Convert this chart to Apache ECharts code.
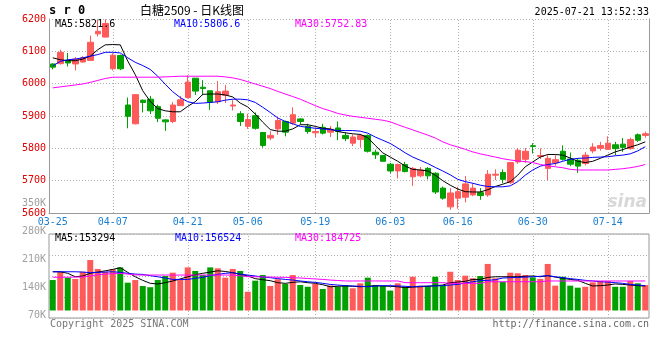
<!DOCTYPE html>
<html><head><meta charset="utf-8">
<script src="https://cdn.jsdelivr.net/npm/echarts/dist/echarts.min.js"></script>
<style>html,body{margin:0;padding:0;background:#fff}#c{width:660px;height:360px}</style>
</head><body><div id="c"></div>
<script>
// ---- data ----
const dates = ['03-25','03-26','03-27','03-28','03-31',
 '04-01','04-02','04-03','04-07','04-08','04-09','04-10','04-11','04-14','04-15','04-16','04-17','04-18',
 '04-21','04-22','04-23','04-24','04-25','04-28','04-29','04-30',
 '05-06','05-07','05-08','05-09','05-12','05-13','05-14','05-15','05-16','05-19','05-20','05-21','05-22','05-23',
 '05-26','05-27','05-28','05-29','05-30',
 '06-03','06-04','06-05','06-06','06-09','06-10','06-11','06-12','06-13','06-16','06-17','06-18','06-19','06-20',
 '06-23','06-24','06-25','06-26','06-27','06-30',
 '07-01','07-02','07-03','07-04','07-07','07-08','07-09','07-10','07-11','07-14','07-15','07-16','07-17','07-18','07-21'];
const labelDates = ['03-25','04-07','04-21','05-06','05-19','06-03','06-16','06-30','07-14'];
const opens  = [6061,6062,6072,6061,6067,6072,6154,6144,6046,6087, 5934,5876,5949,5952,5929,5888,5883,5932,5957,6017,
 5989,5978,5944,5964,5931,5907,5868,5901,5849,5832, 5860,5883,5878,5891,5868,5848,5865,5850,5863,5840,
 5816,5827,5840,5788,5778,5751,5730,5750,5712,5715, 5738,5723,5677,5619,5646,5649,5656,5663,5656,5717,
 5725,5694,5758,5766,5808,5775,5738,5755,5791,5767, 5763,5753,5792,5800,5797,5811,5813,5799,5842,5840];
const closes = [6051,6097,6064,6076,6080,6128,6162,6186,6088,6046, 5899,5966,5942,5916,5893,5882,5934,5950,6005,5977,
 5985,5942,5975,5977,5934,5883,5889,5862,5809,5840, 5886,5850,5904,5883,5852,5852,5847,5859,5852,5830,
 5835,5840,5791,5780,5760,5730,5750,5728,5738,5733, 5715,5665,5646,5662,5666,5690,5677,5654,5720,5720,
 5704,5756,5794,5791,5806,5778,5769,5765,5766,5751, 5745,5779,5804,5809,5816,5799,5803,5827,5825,5845];
const lows   = [6044,6059,6053,6041,6065,6072,6146,6144,6041,6042, 5862,5874,5911,5906,5881,5854,5878,5932,5954,5965,
 5964,5919,5937,5940,5917,5869,5860,5858,5802,5825, 5842,5837,5872,5874,5845,5835,5843,5835,5825,5822,
 5807,5802,5787,5767,5760,5723,5707,5726,5684,5711, 5704,5659,5641,5610,5613,5633,5652,5641,5650,5702,
 5692,5690,5752,5755,5784,5767,5702,5746,5762,5745, 5724,5747,5785,5793,5795,5779,5789,5796,5820,5833];
const highs  = [6063,6105,6095,6082,6085,6149,6197,6199,6094,6090, 5957,5968,5951,5962,5935,5890,5943,5962,6026,6017,
 6011,5978,6008,5996,5950,5915,5907,5911,5849,5853, 5898,5886,5927,5893,5876,5865,5876,5869,5883,5850,
 5843,5845,5843,5796,5778,5755,5753,5758,5742,5742, 5742,5726,5682,5677,5681,5714,5692,5677,5733,5735,
 5735,5758,5801,5801,5816,5800,5779,5779,5809,5787, 5770,5788,5816,5820,5837,5820,5832,5833,5846,5852];
const ma5  = [6080,6074,6071,6071,6076,6085,6105,6120,6121,6120, 6070,6028,5978,5945,5923,5916,5913,5913,5930,5944,
 5967,5968,5968,5965,5959,5940,5928,5906,5881,5858, 5853,5853,5860,5873,5873,5868,5862,5860,5852,5848,
 5845,5843,5833,5809,5786,5773,5760,5745,5735,5733, 5730,5717,5700,5686,5674,5666,5665,5665,5672,5682,
 5689,5697,5717,5743,5758,5773,5781,5781,5779,5770, 5760,5756,5760,5769,5779,5789,5796,5804,5811,5820];
const ma10 = [6055,6069,6074,6076,6080,6085,6090,6097,6097,6095, 6080,6066,6056,6044,6023,5998,5975,5957,5944,5939,
 5940,5942,5944,5949,5952,5952,5950,5942,5927,5911, 5894,5883,5876,5868,5865,5862,5860,5858,5855,5855,
 5855,5853,5847,5835,5825,5815,5801,5786,5773,5763, 5753,5741,5730,5718,5704,5697,5692,5686,5682,5681,
 5681,5684,5697,5717,5733,5745,5750,5753,5760,5766, 5769,5770,5772,5773,5774,5777,5779,5783,5792,5805];
const ma30 = [5987,5990,5993,5996,5999,6004,6010,6016,6020,6020, 6020,6020,6020,6020,6020,6021,6022,6023,6023,6023,
 6023,6023,6023,6021,6018,6013,6006,5999,5992,5985, 5976,5968,5960,5952,5942,5932,5923,5916,5908,5903,
 5899,5896,5893,5890,5887,5882,5873,5865,5857,5849, 5841,5832,5820,5811,5804,5797,5789,5783,5778,5773,
 5768,5764,5761,5759,5756,5750,5746,5743,5740,5735, 5733,5733,5733,5733,5733,5735,5737,5740,5744,5750];
// volume in thousands of lots
const volumes = [195,248,210,202,248,323,266,248,264,276, 178,195,157,149,195,221,242,200,276,253,
 227,276,270,210,266,253,120,191,227,157, 200,170,227,163,152,170,138,160,152,163,
 142,174,210,163,157,127,174,152,216,159, 157,216,159,248,195,223,206,221,298,206,
 184,242,238,227,212,202,298,159,216,159, 146,152,180,189,189,152,152,189,174,163];
const volMa5 = [248,248,238,216,221,238,246,254,263,274, 244,216,193,174,170,178,189,202,216,229,
 238,246,254,250,242,231,221,204,197,191, 178,174,180,184,178,174,165,152,155,157,
 155,152,155,159,157,155,152,146,150,152, 155,159,163,178,182,187,199,199,212,216,
 216,216,216,219,221,216,223,214,206,199, 193,174,157,159,163,170,167,163,159,157];
const volMa10 = [248,248,248,248,246,242,244,246,248,244, 238,233,231,223,216,208,199,199,199,206,
 212,223,231,238,242,233,227,221,214,210, 204,199,195,189,184,180,174,167,163,159,
 157,155,152,157,159,159,157,155,152,155, 157,157,159,163,167,176,184,191,193,197,
 208,210,212,214,216,219,223,216,210,204, 199,193,189,184,182,178,174,167,163,159];
const volMa30 = [213,213,213,214,214,221,229,233,236,238, 233,228,227,227,227,227,227,227,227,227,
 227,227,227,227,227,222,217,216,215,214, 213,212,210,208,205,202,199,195,192,189,
 189,189,189,189,189,189,189,178,178,178, 178,178,178,174,174,174,174,174,184,184,
 184,184,184,184,184,184,189,189,189,189, 189,189,189,189,189,189,189,189,189,189];
const volTickLabels = ['70K','140K','210K','280K','350K'];
const headerTitle = '白糖2509 - 日K线图';
const headerCode = 's r 0';
const headerTime = '2025-07-21 13:52:33';
const priceMaText = ['MA5:5821.6','MA10:5806.6','MA30:5752.83'];
const volMaText = ['MA5:153294','MA10:156524','MA30:184725'];

// ---- chart ----
const RED = '#ff5a5a', GREEN = '#00a000', GRIDC = '#b0b0b0', BORDER = '#999999';
const MONO = '"DejaVu Sans Mono", "Liberation Mono", monospace';
const DOT = [1, 2];
const candleData = dates.map((d, i) => [opens[i], closes[i], lows[i], highs[i]]);
const volData = volumes.map((v, i) => ({ value: v * 1000, itemStyle: { color: closes[i] >= opens[i] ? RED : GREEN } }));
const K = a => a.map(v => v * 1000);
const nulls = dates.map(() => null);
const vLines = labelDates.slice(1).map(d => ({ xAxis: d }));
function maLine(name, data, color, xi, yi) {
  return { name, type: 'line', data, xAxisIndex: xi, yAxisIndex: yi, symbol: 'none', silent: true, z: 4,
    lineStyle: { color, width: 1 }, animation: false };
}
function gridLines(xi, yi) {
  return { type: 'line', data: nulls, xAxisIndex: xi, yAxisIndex: yi, silent: true, z: 1, symbol: 'none',
    markLine: { silent: true, z: 1, symbol: ['none', 'none'], label: { show: false }, animation: false,
      lineStyle: { type: DOT, color: GRIDC, width: 1 }, emphasis: { disabled: true }, data: vLines } };
}
function txt(text, x, y, fill, font, align) {
  return { type: 'text', x, y, silent: true, z: 10,
    style: { text, fill, font, align: align || 'left', verticalAlign: 'middle' } };
}
const maColors = ['#000000', '#0000ff', '#ff00ff'];
const option = {
  animation: false,
  backgroundColor: '#ffffff',
  grid: [
    { left: 49, right: 11, top: 19, height: 194 },
    { left: 49, right: 11, top: 234, height: 84, show: true, borderColor: BORDER, borderWidth: 1 },
    { left: 49, right: 11, top: 203, height: 112 }
  ],
  xAxis: [
    { type: 'category', gridIndex: 0, data: dates, boundaryGap: true,
      axisLine: { show: true, lineStyle: { color: BORDER } }, axisTick: { show: false }, splitLine: { show: false },
      axisLabel: { interval: (i, v) => labelDates.indexOf(v) >= 0, color: '#1a7fd0', fontFamily: MONO, fontSize: 10, margin: 4 } },
    { type: 'category', gridIndex: 1, data: dates, boundaryGap: true,
      axisLine: { show: false }, axisTick: { show: false }, axisLabel: { show: false }, splitLine: { show: false } },
    { type: 'category', gridIndex: 2, data: dates, show: false }
  ],
  yAxis: [
    { type: 'value', gridIndex: 0, min: 5600, max: 6200, interval: 100, position: 'left',
      axisLine: { show: true, lineStyle: { color: BORDER } }, axisTick: { show: false },
      axisLabel: { color: '#e00000', fontFamily: MONO, fontSize: 10, margin: 3, padding: [0, 0, 4, 0],
        formatter: v => String(v) },
      splitLine: { show: true, lineStyle: { type: DOT, color: GRIDC } } },
    { type: 'value', gridIndex: 0, min: 5600, max: 6200, position: 'right',
      axisLine: { show: true, lineStyle: { color: BORDER } }, axisTick: { show: false },
      axisLabel: { show: false }, splitLine: { show: false } },
    { type: 'value', gridIndex: 1, min: 0, max: 4, interval: 1,
      axisLine: { show: false }, axisTick: { show: false }, axisLabel: { show: false },
      splitLine: { show: true, lineStyle: { type: DOT, color: GRIDC } } },
    { type: 'value', gridIndex: 1, min: -48000, max: 489600, show: false, splitLine: { show: false } },
    { type: 'value', gridIndex: 2, min: 70000, max: 350000, interval: 70000,
      axisLine: { show: false }, axisTick: { show: false }, splitLine: { show: false },
      axisLabel: { color: '#a0a0a0', fontFamily: MONO, fontSize: 10, margin: 3,
        formatter: v => volTickLabels[Math.round((v - 70000) / 70000)] } }
  ],
  series: [
    gridLines(0, 0),
    { type: 'candlestick', data: candleData, xAxisIndex: 0, yAxisIndex: 0, barWidth: 6, z: 3, silent: true,
      itemStyle: { color: RED, color0: GREEN, borderColor: RED, borderColor0: GREEN, borderWidth: 1 } },
    maLine('MA5', ma5, maColors[0], 0, 0),
    maLine('MA10', ma10, maColors[1], 0, 0),
    maLine('MA30', ma30, maColors[2], 0, 0),
    gridLines(1, 3),
    { type: 'bar', data: volData, xAxisIndex: 1, yAxisIndex: 3, barWidth: 6, z: 3, silent: true },
    maLine('VMA5', K(volMa5), maColors[0], 1, 3),
    maLine('VMA10', K(volMa10), maColors[1], 1, 3),
    maLine('VMA30', K(volMa30), maColors[2], 1, 3)
  ],
  graphic: [
    txt(headerCode, 49, 11, '#000000', 'bold 12px ' + MONO),
    txt(headerTitle, 140, 10, '#000000', '12px "Noto Sans CJK SC", sans-serif'),
    txt(headerTime, 649, 12, '#000000', '10px ' + MONO, 'right'),
    txt(priceMaText[0], 55, 24, maColors[0], '10px ' + MONO),
    txt(priceMaText[1], 174, 24, maColors[1], '10px ' + MONO),
    txt(priceMaText[2], 295, 24, maColors[2], '10px ' + MONO),
    txt(volMaText[0], 55, 238, maColors[0], '10px ' + MONO),
    txt(volMaText[1], 175, 238, maColors[1], '10px ' + MONO),
    txt(volMaText[2], 295, 238, maColors[2], '10px ' + MONO),
    txt('Copyright 2025 SINA.COM', 50, 324, '#777777', '10px ' + MONO),
    txt('http://finance.sina.com.cn', 649, 324, '#666666', '10px ' + MONO, 'right'),
    txt('sina', 647, 203, '#d8d8d8', 'italic bold 17px "DejaVu Sans", sans-serif', 'right')
  ]
};
const chart = echarts.init(document.getElementById('c'), null, { renderer: 'canvas' });
chart.setOption(option);
</script>
</body></html>
